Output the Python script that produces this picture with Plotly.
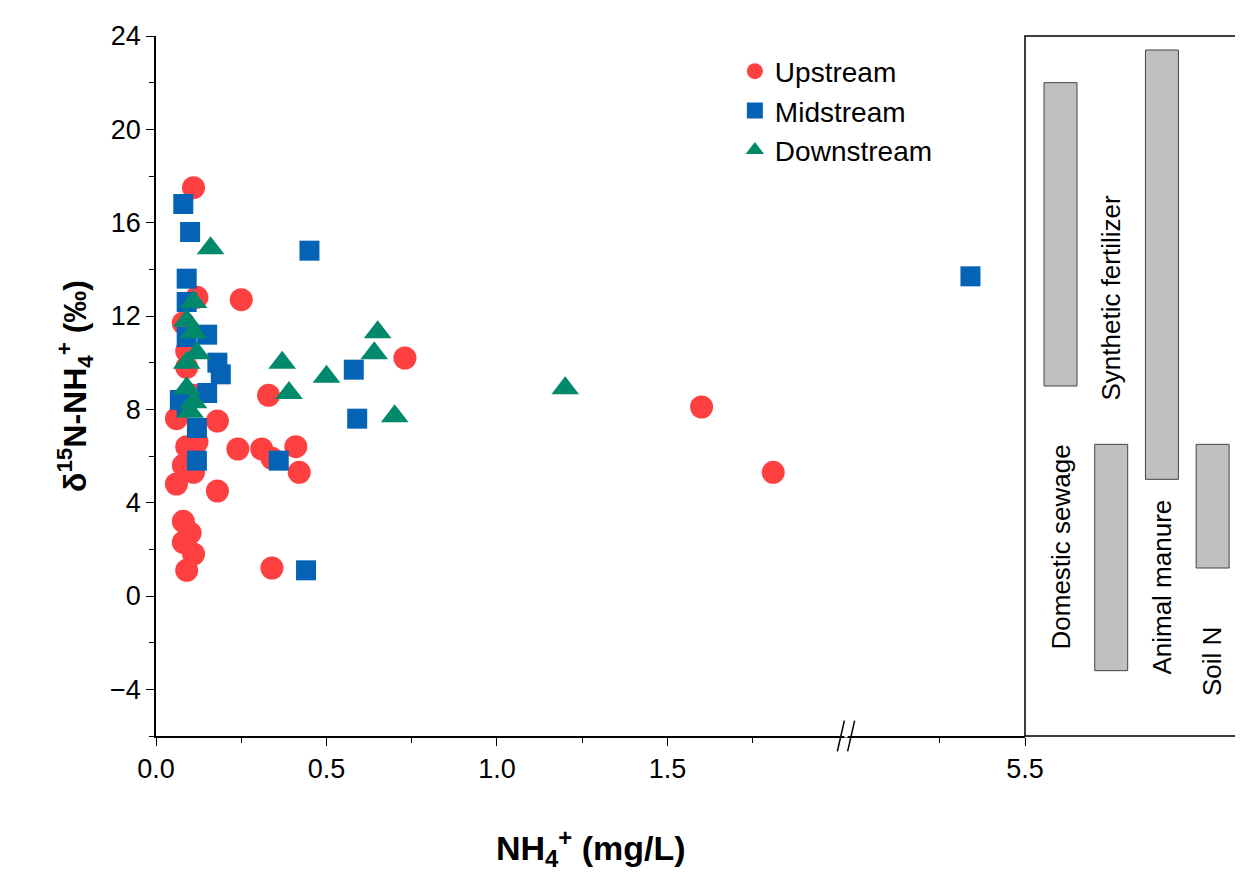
import plotly.graph_objects as go

# NH4+ (mg/L) and d15N-NH4+ (permil)
up_x = [0.11, 0.12, 0.25, 0.08, 0.09, 0.09, 0.73, 0.11, 0.06, 0.18, 0.33, 0.12, 0.24, 0.31, 0.34,
        0.41, 0.42, 0.08, 0.11, 0.06, 0.18, 0.08, 0.10, 0.08, 0.11, 0.09, 0.34, 1.60, 1.81, 0.09]
up_y = [17.5, 12.8, 12.7, 11.7, 10.5, 9.8, 10.2, 8.6, 7.6, 7.5, 8.6, 6.6, 6.3, 6.3, 5.9,
        6.4, 5.3, 5.6, 5.3, 4.8, 4.5, 3.2, 2.7, 2.3, 1.8, 1.1, 1.2, 8.1, 5.3, 6.4]
mid_x = [0.08, 0.10, 0.45, 0.09, 0.09, 0.15, 0.09, 0.18, 0.19, 0.58, 0.15, 0.07, 0.59, 0.12,
         0.12, 0.36, 0.44, 5.34, 0.09]
mid_y = [16.8, 15.6, 14.8, 13.6, 12.6, 11.2, 11.1, 10.0, 9.5, 9.7, 8.7, 8.4, 7.6, 7.2,
         5.8, 5.8, 1.1, 13.7, 8.1]
down_x = [0.16, 0.11, 0.09, 0.11, 0.12, 0.09, 0.37, 0.39, 0.09, 0.11, 0.10, 0.50, 0.65, 0.64, 0.70, 1.20]
down_y = [14.9, 12.6, 11.8, 11.3, 10.4, 10.0, 10.0, 8.7, 8.9, 8.3, 7.9, 9.4, 11.3, 10.4, 7.7, 8.9]

sources = ["Domestic sewage", "Synthetic fertilizer", "Animal manure", "Soil N"]
src_low = [9.0, -3.2, 5.0, 1.2]
src_high = [22.0, 6.5, 23.4, 6.5]
label_y = [2.1, 12.8, 0.4, -2.8]

BREAK = 5.0  # values above this go to the second x segment

fig = go.Figure()

def add_series(xs, ys, name, color, symbol, size):
    lo = [(x, y) for x, y in zip(xs, ys) if x < BREAK]
    hi = [(x, y) for x, y in zip(xs, ys) if x >= BREAK]
    fig.add_trace(go.Scatter(x=[p[0] for p in lo], y=[p[1] for p in lo], mode='markers', name=name,
                             marker=dict(color=color, symbol=symbol, size=size), xaxis='x', yaxis='y'))
    if hi:
        fig.add_trace(go.Scatter(x=[p[0] for p in hi], y=[p[1] for p in hi], mode='markers', name=name,
                                 showlegend=False, marker=dict(color=color, symbol=symbol, size=size),
                                 xaxis='x2', yaxis='y'))

add_series(up_x, up_y, 'Upstream', '#ff4040', 'circle', 23)
add_series(mid_x, mid_y, 'Midstream', '#0563b5', 'square', 20)
add_series(down_x, down_y, 'Downstream', '#00896a', 'triangle-up', 24)

fig.add_trace(go.Bar(x=sources, y=[h - l for l, h in zip(src_low, src_high)], base=src_low,
                     width=0.65, marker=dict(color='#c0c0c0', line=dict(color='#444', width=1)),
                     showlegend=False, xaxis='x3', yaxis='y3'))

for s, ly in zip(sources, label_y):
    fig.add_annotation(x=s, y=ly, xref='x3', yref='y3', text=s, textangle=-90, showarrow=False,
                       font=dict(size=26, color='black'))

d1 = (838 - 148) / 1082
d2 = (1017 - 148) / 1082
tickfont = dict(size=27, color='black')
common = dict(showline=True, linecolor='black', linewidth=1.5, ticks='outside', ticklen=8,
              tickcolor='black', showgrid=False, zeroline=False, tickfont=tickfont, automargin=False)

fig.update_layout(
    width=1243, height=882, plot_bgcolor='white', paper_bgcolor='white',
    margin=dict(l=148, r=13, t=28, b=154),
    font=dict(family='Arial, Liberation Sans, sans-serif', color='black'),
    xaxis=dict(domain=[0, d1], range=[0, 2.0235], tickvals=[0, 0.5, 1.0, 1.5],
               ticktext=['0.0', '0.5', '1.0', '1.5'],
               minor=dict(tickvals=[0.25, 0.75, 1.25, 1.75], ticks='outside', ticklen=5, tickcolor='black'),
               **common),
    xaxis2=dict(domain=[d1, d2], range=[4.975, 5.5], tickvals=[5.5], ticktext=['5.5'], anchor='y',
                minor=dict(tickvals=[5.25], ticks='outside', ticklen=5, tickcolor='black'), **common),
    xaxis3=dict(domain=[d2, 1], range=[-0.7, 3.5], showticklabels=False, showgrid=False, zeroline=False,
                anchor='y3', automargin=False),
    yaxis=dict(range=[-6, 24], tickvals=[-4, 0, 4, 8, 12, 16, 20, 24],
               ticktext=['\u22124', '0', '4', '8', '12', '16', '20', '24'],
               minor=dict(dtick=2, ticks='outside', ticklen=5, tickcolor='black'),
               title=dict(text='<b>\u03b4<sup>15</sup>N-NH<sub>4</sub><sup>+</sup> (\u2030)</b>',
                          font=dict(size=32), standoff=14),
               **common),
    yaxis3=dict(range=[-6, 24], anchor='x3', visible=False),
    legend=dict(x=0.535, y=0.985, xanchor='left', yanchor='top', font=dict(size=28),
                bgcolor='rgba(0,0,0,0)', itemsizing='trace', tracegroupgap=2),
    shapes=[
        dict(type='rect', xref='paper', yref='paper', x0=d2, x1=1, y0=0, y1=1,
             line=dict(color='black', width=1.5)),
        dict(type='line', xref='paper', yref='paper', x0=d1 - 0.008, x1=d1 - 0.0015, y0=-0.022, y1=0.022,
             line=dict(color='black', width=1.5)),
        dict(type='line', xref='paper', yref='paper', x0=d1 + 0.0015, x1=d1 + 0.008, y0=-0.022, y1=0.022,
             line=dict(color='black', width=1.5)),
        dict(type='line', xref='paper', yref='paper', x0=d1 - 0.0015, x1=d1 + 0.0015, y0=0, y1=0,
             line=dict(color='white', width=3)),
    ],
)
fig.add_annotation(text='<b>NH<sub>4</sub><sup>+</sup> (mg/L)</b>', xref='paper', yref='paper',
                   x=(583 - 148) / 1082, y=-0.16, yanchor='middle', showarrow=False, font=dict(size=34))

fig.write_html("out.html")
